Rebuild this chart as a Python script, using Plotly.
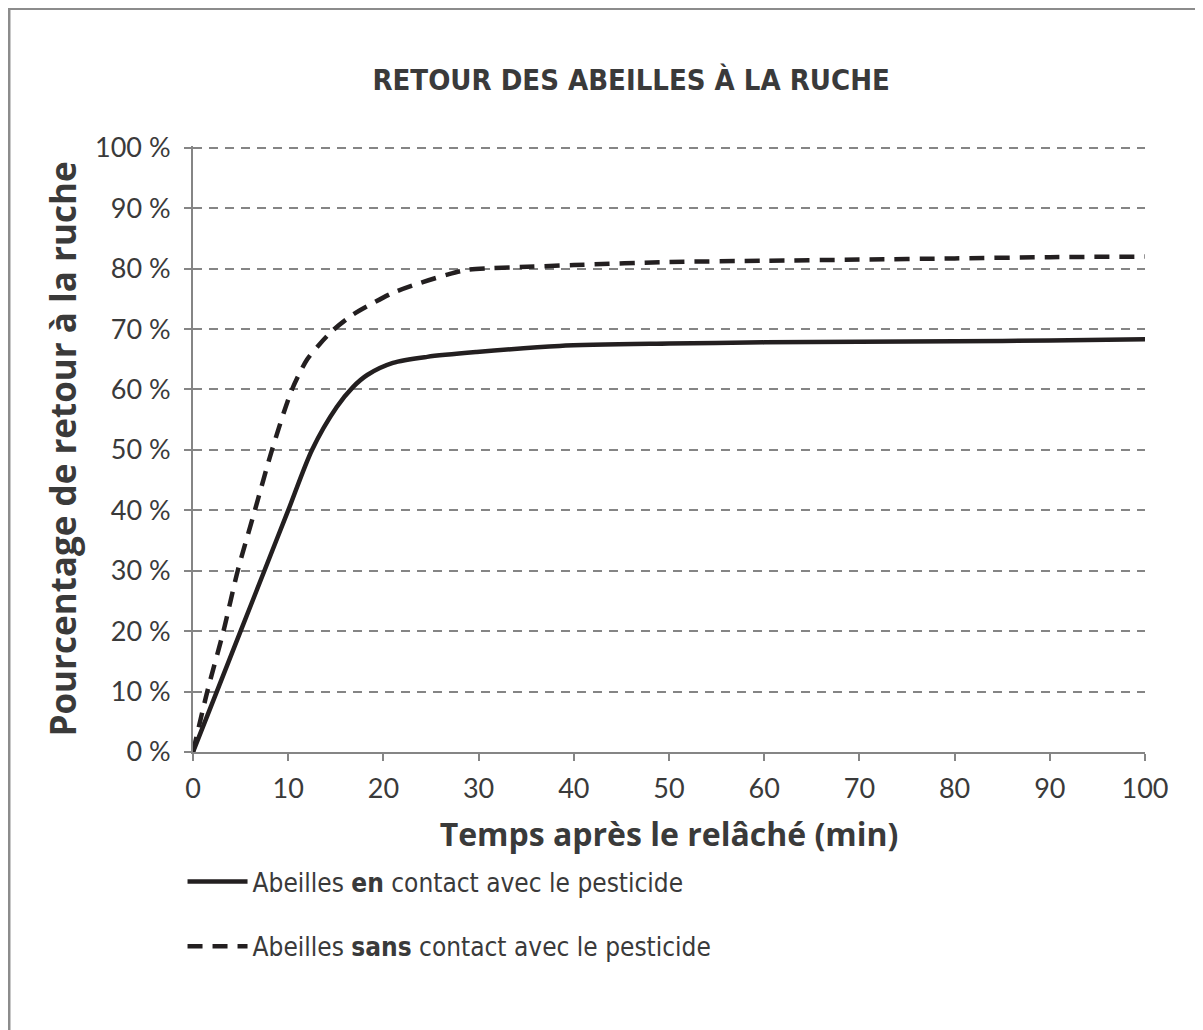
''' Retour des abeilles à la ruche '''
import plotly.graph_objects as go

# Reading data
temps_avec = [0, 2.5, 5, 7.5, 10, 12.5, 15.1, 16.8, 18.3, 21, 24.6, 29.8, 38.5, 50, 60, 70, 80, 90, 100]
retour_avec = [0, 10, 20, 30, 40, 50, 57.1, 60.4, 62.4, 64.4, 65.4, 66.2, 67.2, 67.6, 67.8, 67.9, 68.0, 68.1, 68.3]

temps_sans = [0, 1.5, 3.2, 4.7, 6.5, 8.3, 10.4, 12, 13.3, 14.7, 16.8, 18.9, 21, 23.8, 26.7,
              28.8, 31.5, 35.1, 40, 50, 60, 70, 80, 90, 100]
retour_sans = [0, 10, 20, 30, 40, 50, 60, 65, 67.5, 69.8, 72.4, 74.3, 76, 77.6, 79,
               79.8, 80.1, 80.3, 80.6, 81.1, 81.3, 81.5, 81.7, 81.9, 82]

x_ticks = list(range(0, 101, 10))
y_ticks = list(range(0, 101, 10))
y_labels = [f'{v} %' for v in y_ticks]

# Colors and fonts
ink = '#231f20'
grid = '#858585'
text_col = '#3a3a3a'
cond = 'DejaVu Sans Condensed'

fig = go.Figure()

fig.add_trace(go.Scatter(
    x=temps_avec,
    y=retour_avec,
    mode='lines',
    line=dict(color=ink, width=4.5, shape='spline', smoothing=0.8),
    name='Abeilles <b>en</b> contact avec le pesticide',
    legendgroup='a'
))

fig.add_trace(go.Scatter(
    x=temps_sans,
    y=retour_sans,
    mode='lines',
    line=dict(color=ink, width=4.5, dash='15px,10px', shape='spline', smoothing=0.8),
    name='Abeilles <b>sans</b> contact avec le pesticide',
    legendgroup='b'
))

fig.update_layout(
    width=1203,
    height=1030,
    paper_bgcolor='white',
    plot_bgcolor='white',
    margin=dict(l=185, r=66, t=138, b=286),
    title=dict(
        text='<b>RETOUR DES ABEILLES À LA RUCHE</b>',
        x=0.518, xanchor='center', xref='container',
        y=0.930, yanchor='middle',
        font=dict(family=cond, size=29, color=text_col)
    ),
    xaxis=dict(
        range=[0, 100],
        tickvals=x_ticks,
        showgrid=False,
        zeroline=False,
        showline=True, linecolor=grid, linewidth=2,
        ticks='outside', ticklen=7, tickcolor=grid, tickwidth=2,
        ticklabelstandoff=5,
        tickfont=dict(family='Lato', size=27, color=text_col),
        title=dict(text='<b>Temps après le relâché (min)</b>', standoff=20,
                   font=dict(family='Open Sans', size=32, color=text_col))
    ),
    yaxis=dict(
        range=[0, 100.3],
        tickvals=y_ticks,
        ticktext=y_labels,
        showgrid=True, gridcolor=grid, gridwidth=2, griddash='9px,7px',
        zeroline=False,
        showline=True, linecolor=grid, linewidth=2,
        ticks='outside', ticklen=7, tickcolor=grid, tickwidth=2,
        ticklabelstandoff=8,
        tickfont=dict(family='Lato', size=27, color=text_col),
        title=dict(text='<b>Pourcentage de retour à la ruche</b>', standoff=8,
                   font=dict(family='Open Sans', size=35, color=text_col))
    ),
    legend=dict(
        x=-0.011, xanchor='left',
        y=-0.175, yanchor='top',
        orientation='v',
        tracegroupgap=28,
        itemwidth=60,
        font=dict(family=cond, size=26, color=text_col),
        bgcolor='rgba(0,0,0,0)'
    ),
    shapes=[dict(
        type='rect', xref='paper', yref='paper',
        x0=-0.1933, x1=1.2, y0=-0.6, y1=1.227,
        line=dict(color='#8c8c8c', width=3)
    )]
)

fig.write_html("out.html")
